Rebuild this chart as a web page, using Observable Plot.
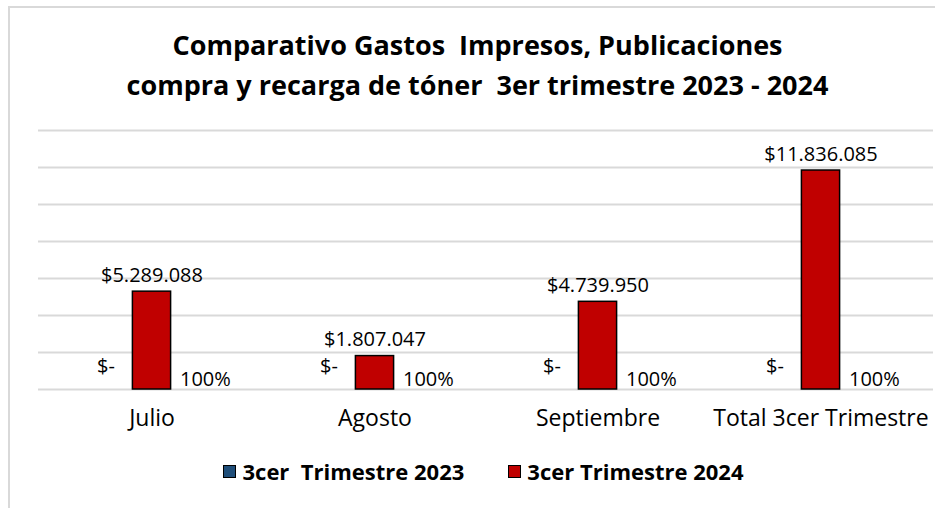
<!DOCTYPE html>
<html><head><meta charset="utf-8">
<script src="https://cdn.jsdelivr.net/npm/d3@7"></script>
<script src="https://cdn.jsdelivr.net/npm/@observablehq/plot@0.6"></script>
<style>
body{margin:0;background:#fff;width:935px;height:508px;overflow:hidden;position:relative;font-family:"Open Sans",sans-serif;color:#000;}
#frame{position:absolute;left:8px;top:6px;width:960px;height:540px;border-left:2px solid #d9d9d9;border-top:2px solid #d9d9d9;}
#title{position:absolute;left:10px;top:25px;width:935px;text-align:center;font-weight:bold;font-size:27px;line-height:40px;white-space:pre;}
#chart{position:absolute;left:0;top:110px;}
#legend{position:absolute;top:456px;left:16px;width:935px;display:flex;justify-content:center;gap:44px;font-weight:bold;font-size:22px;white-space:pre;}
#legend .item{display:flex;align-items:center;gap:6px;}
#legend .sw{width:11px;height:11px;border:1px solid #000;}
</style></head>
<body>
<div id="frame"></div>
<div id="title">Comparativo Gastos  Impresos, Publicaciones
compra y recarga de tóner  3er trimestre 2023 - 2024</div>
<div id="chart"></div>
<div id="legend"></div>
<script>
const categories = ["Julio", "Agosto", "Septiembre", "Total 3cer Trimestre"];
const values2023 = [0, 0, 0, 0];
const values2024 = [5289088, 1807047, 4739950, 11836085];
const labels2023 = ["$-", "$-", "$-", "$-"];
const labels2024 = ["$5.289.088", "$1.807.047", "$4.739.950", "$11.836.085"];
const variation = ["100%", "100%", "100%", "100%"];
const gridValues = [0, 2000000, 4000000, 6000000, 8000000, 10000000, 12000000, 14000000];
const seriesNames = ["3cer  Trimestre 2023", "3cer Trimestre 2024"];
const seriesColors = ["#1F4E79", "#C00000"];

const rows = categories.map((c, i) => ({
  category: c, v2023: values2023[i], v2024: values2024[i],
  l2023: labels2023[i], l2024: labels2024[i], pct: variation[i]
}));

const chart = Plot.plot({
  width: 935, height: 330,
  marginTop: 20, marginBottom: 51, marginLeft: 38, marginRight: 2,
  x: {type: "band", domain: categories, padding: 0},
  y: {domain: [0, 14000000], axis: null},
  style: {fontFamily: "Open Sans", color: "#000", background: "transparent"},
  marks: [
    Plot.ruleY(gridValues, {stroke: "#d9d9d9", strokeWidth: 2}),
    Plot.barY(rows, {x: "category", y: "v2023", fill: seriesColors[0], insetLeft: 53.4, insetRight: 131.2}),
    Plot.barY(rows, {x: "category", y: "v2024", fill: seriesColors[1], stroke: "#000", strokeWidth: 1.5, insetLeft: 92.4, insetRight: 92.4}),
    Plot.text(rows, {x: "category", y: "v2024", text: "l2024", dy: -16, fontSize: 20, fill: "#000"}),
    Plot.text(rows, {x: "category", y: "v2023", text: "l2023", dx: -46, dy: -23, fontSize: 20, fill: "#000"}),
    Plot.text(rows, {x: "category", y: "v2023", text: "pct", textAnchor: "start", dx: 28, dy: -10, fontSize: 20, fill: "#000"}),
    Plot.axisX({tickSize: 0, tickPadding: 20, fontSize: 23, label: null, fill: "#000"})
  ]
});
document.getElementById("chart").appendChild(chart);

const legend = document.getElementById("legend");
seriesNames.forEach((name, i) => {
  const item = document.createElement("div");
  item.className = "item";
  const sw = document.createElement("div");
  sw.className = "sw";
  sw.style.background = seriesColors[i];
  const t = document.createElement("span");
  t.textContent = name;
  item.appendChild(sw); item.appendChild(t);
  legend.appendChild(item);
});
</script>
</body></html>
